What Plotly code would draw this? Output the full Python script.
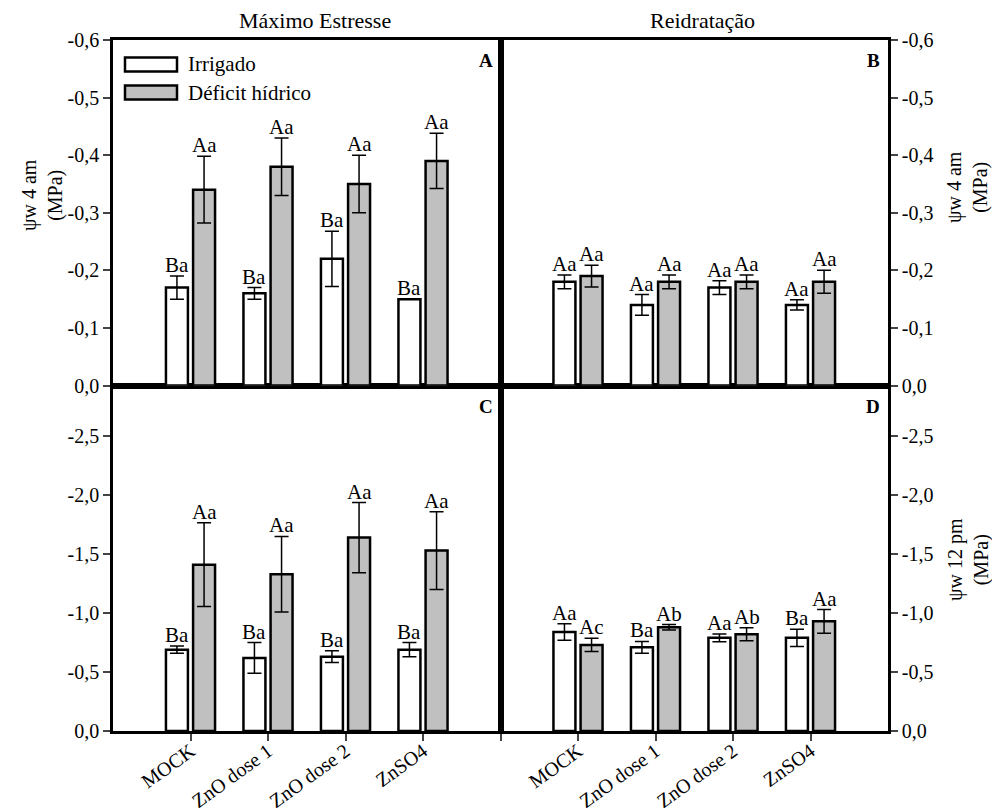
import plotly.graph_objects as go

# Treatments and groups
categories = ["MOCK", "ZnO dose 1", "ZnO dose 2", "ZnSO4"]
groups = ["Irrigado", "Déficit hídrico"]

# Water potential magnitudes (MPa, plotted as positive, labelled negative)
# Panel A – maximum stress, 4 am
a_irr = [0.17, 0.16, 0.22, 0.15]
a_irr_err = [0.02, 0.01, 0.048, 0.0]
a_def = [0.34, 0.38, 0.35, 0.39]
a_def_err = [0.058, 0.05, 0.05, 0.048]
a_irr_lab = ["Ba", "Ba", "Ba", "Ba"]
a_def_lab = ["Aa", "Aa", "Aa", "Aa"]

# Panel B – rehydration, 4 am
b_irr = [0.18, 0.14, 0.17, 0.14]
b_irr_err = [0.012, 0.018, 0.012, 0.009]
b_def = [0.19, 0.18, 0.18, 0.18]
b_def_err = [0.019, 0.012, 0.012, 0.02]
b_irr_lab = ["Aa", "Aa", "Aa", "Aa"]
b_def_lab = ["Aa", "Aa", "Aa", "Aa"]

# Panel C – maximum stress, 12 pm
c_irr = [0.69, 0.62, 0.63, 0.69]
c_irr_err = [0.03, 0.13, 0.05, 0.06]
c_def = [1.41, 1.33, 1.64, 1.53]
c_def_err = [0.355, 0.32, 0.297, 0.33]
c_irr_lab = ["Ba", "Ba", "Ba", "Ba"]
c_def_lab = ["Aa", "Aa", "Aa", "Aa"]

# Panel D – rehydration, 12 pm
d_irr = [0.84, 0.71, 0.79, 0.79]
d_irr_err = [0.07, 0.05, 0.033, 0.073]
d_def = [0.73, 0.88, 0.82, 0.93]
d_def_err = [0.056, 0.023, 0.055, 0.1]
d_irr_lab = ["Aa", "Ba", "Aa", "Ba"]
d_def_lab = ["Ac", "Ab", "Ab", "Aa"]

top_ticks = [0.0, 0.1, 0.2, 0.3, 0.4, 0.5, 0.6]
top_ticktext = ["0,0", "-0,1", "-0,2", "-0,3", "-0,4", "-0,5", "-0,6"]
bot_ticks = [0.0, 0.5, 1.0, 1.5, 2.0, 2.5]
bot_ticktext = ["0,0", "-0,5", "-1,0", "-1,5", "-2,0", "-2,5"]

FONT = "Liberation Serif"
GRAY = "#c0c0c0"
xpos = [1, 2, 3, 4]
BAR_SHIFT = 0.175  # centre offset of each bar within a group (axis units)

fig = go.Figure()

panels = [
    # (xaxis, yaxis, irr, irr_err, def, def_err, irr labels, def labels)
    ("x3", "y3", a_irr, a_irr_err, a_def, a_def_err, a_irr_lab, a_def_lab),
    ("x4", "y4", b_irr, b_irr_err, b_def, b_def_err, b_irr_lab, b_def_lab),
    ("x", "y", c_irr, c_irr_err, c_def, c_def_err, c_irr_lab, c_def_lab),
    ("x2", "y2", d_irr, d_irr_err, d_def, d_def_err, d_irr_lab, d_def_lab),
]

annotations = []
for xa, ya, irr, irr_e, dfc, dfc_e, lab_i, lab_d in panels:
    for vals, errs, color, name in ((irr, irr_e, "white", groups[0]),
                                    (dfc, dfc_e, GRAY, groups[1])):
        fig.add_trace(go.Bar(
            x=xpos, y=vals, name=name, xaxis=xa, yaxis=ya,
            marker=dict(color=color, line=dict(color="black", width=2.5)),
            error_y=dict(type="data", array=errs, visible=True,
                         color="black", thickness=1.5, width=7),
            showlegend=False,
        ))
    for i in range(4):
        for vals, errs, labs, sgn in ((irr, irr_e, lab_i, -1), (dfc, dfc_e, lab_d, 1)):
            annotations.append(dict(
                x=xpos[i] + sgn * BAR_SHIFT, y=vals[i] + errs[i],
                xref=xa, yref=ya, text=labs[i], showarrow=False,
                yanchor="bottom", xanchor="center", yshift=-3,
                font=dict(family=FONT, size=21, color="black"),
            ))

axis_common = dict(showline=True, linewidth=2.5, linecolor="black",
                   mirror=True, showgrid=False, zeroline=False,
                   automargin=False,
                   tickfont=dict(family=FONT, size=20, color="black"))

xtick_style = dict(ticks="outside", ticklen=7, tickwidth=1.5, tickangle=-36,
                   ticklabelstandoff=-9)

fig.update_layout(
    width=992, height=812,
    margin=dict(l=113, r=104, t=40, b=81, autoexpand=False),
    paper_bgcolor="white", plot_bgcolor="white",
    barmode="group", bargap=0.3, bargroupgap=0.19,
    showlegend=False,
    xaxis=dict(domain=[0, 0.5], anchor="y", range=[0, 5],
               tickvals=[1, 2, 3, 4, 5], ticktext=categories + [""],
               **xtick_style, **axis_common),
    xaxis2=dict(domain=[0.5, 1], anchor="y2", range=[0, 5],
                tickvals=[1, 2, 3, 4], ticktext=categories,
                **xtick_style, **axis_common),
    xaxis3=dict(domain=[0, 0.5], anchor="y3", range=[0, 5],
                showticklabels=False, ticks="", **axis_common),
    xaxis4=dict(domain=[0.5, 1], anchor="y4", range=[0, 5],
                showticklabels=False, ticks="", **axis_common),
    yaxis=dict(domain=[0, 0.5], anchor="x", range=[0, 2.93],
               tickvals=bot_ticks, ticktext=bot_ticktext,
               ticks="outside", ticklen=7, tickwidth=1.5, **axis_common),
    yaxis2=dict(domain=[0, 0.5], anchor="x2", range=[0, 2.93], side="right",
                tickvals=bot_ticks, ticktext=bot_ticktext,
                ticks="outside", ticklen=7, tickwidth=1.5, **axis_common),
    yaxis3=dict(domain=[0.5, 1], anchor="x3", range=[0, 0.6],
                tickvals=top_ticks, ticktext=top_ticktext,
                ticks="outside", ticklen=7, tickwidth=1.5, **axis_common),
    yaxis4=dict(domain=[0.5, 1], anchor="x4", range=[0, 0.6], side="right",
                tickvals=top_ticks, ticktext=top_ticktext,
                ticks="outside", ticklen=7, tickwidth=1.5, **axis_common),
)

# Panel letters
for text, xr, yr in (("A", "x3", "y3"), ("B", "x4", "y4"),
                     ("C", "x", "y"), ("D", "x2", "y2")):
    annotations.append(dict(
        x=0.985, y=0.94, xref=f"{xr} domain", yref=f"{yr} domain",
        text=f"<b>{text}</b>", showarrow=False, xanchor="right", yanchor="middle",
        font=dict(family=FONT, size=19, color="black")))

# Column titles
for text, xc in (("Máximo Estresse", 0.25), ("Reidratação", 0.75)):
    annotations.append(dict(
        x=xc, y=1.0, xref="paper", yref="paper", yshift=5, xshift=8,
        text=text, showarrow=False, xanchor="center", yanchor="bottom",
        font=dict(family=FONT, size=22, color="black")))

# Axis titles (rotated)
for text, px, py in (("ψw 4 am<br>(MPa)", 42, 195),
                     ("ψw 4 am<br>(MPa)", 968, 187),
                     ("ψw 12 pm<br>(MPa)", 968, 560)):
    annotations.append(dict(
        x=(px - 113) / 775, y=(731 - py) / 691, xref="paper", yref="paper",
        text=text, showarrow=False, textangle=-90,
        xanchor="center", yanchor="middle",
        font=dict(family=FONT, size=20, color="black")))

# Legend drawn inside panel A
shapes = []
legend_rows = ((groups[0], "white", 64.5), (groups[1], GRAY, 92.5))
for name, color, py in legend_rows:
    shapes.append(dict(
        type="rect", xref="paper", yref="paper",
        x0=(125 - 113) / 775, x1=(177 - 113) / 775,
        y0=(731 - (py + 7)) / 691, y1=(731 - (py - 7)) / 691,
        fillcolor=color, line=dict(color="black", width=2.5)))
    annotations.append(dict(
        x=(186 - 113) / 775, y=(731 - py) / 691, xref="paper", yref="paper",
        text=name, showarrow=False, xanchor="left", yanchor="middle",
        font=dict(family=FONT, size=21, color="black")))

fig.update_layout(annotations=annotations, shapes=shapes)

fig.write_html("out.html")
